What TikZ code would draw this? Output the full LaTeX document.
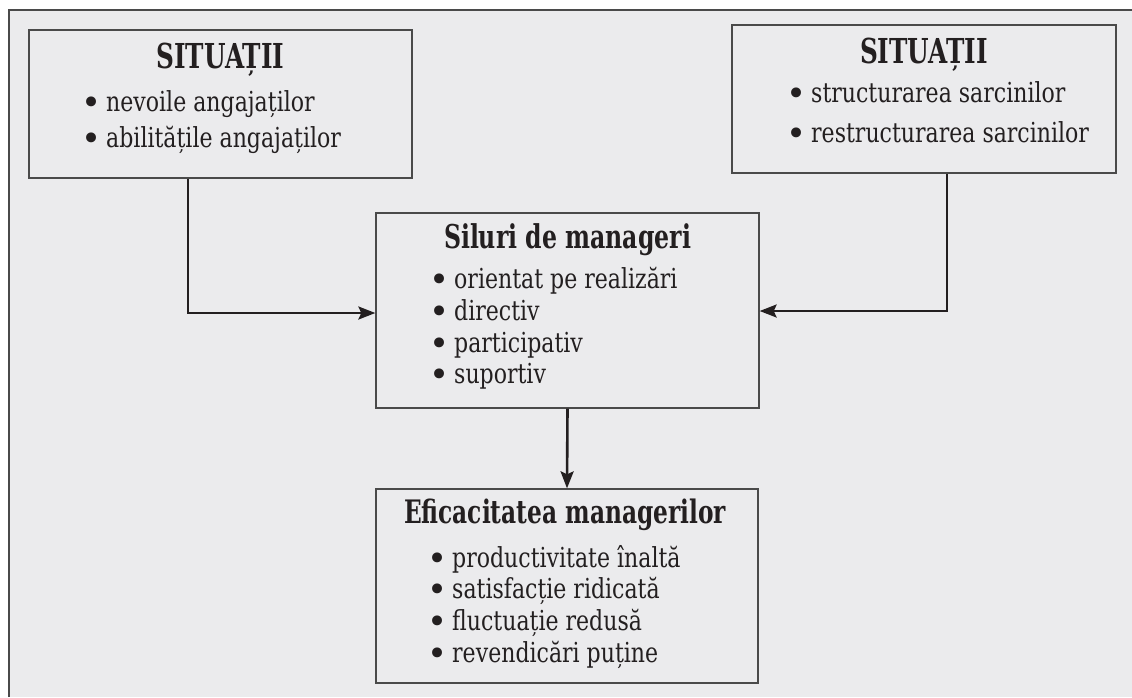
\documentclass[tikz,border=0pt]{standalone}
\usepackage{fontspec}
\setmainfont{DejaVu Serif}[FakeStretch=0.8]
\newfontfamily\headfont{DejaVu Serif}[FakeStretch=0.72]
\newfontfamily\dotfont{DejaVu Serif}
\usetikzlibrary{arrows.meta}
\definecolor{panel}{HTML}{EBEBED}
\definecolor{ink}{HTML}{231F20}
\definecolor{rule}{HTML}{4A4A4A}
% typeset #2 in the current face at the size that makes it #1 pt wide
\newlength\fitw
\newcommand\fitto[2]{%
  \settowidth\fitw{\fontsize{10pt}{12pt}\selectfont #2}%
  \edef\fitsz{\the\numexpr 655360*\numexpr #1*65536\relax/\number\fitw\relax sp}%
  \fontsize{\fitsz}{\fitsz}\selectfont #2}
% list bullet: an 8pt dot followed by the gap before the words
\newcommand{\blt}{\makebox[8pt][c]{\dotfont\fontsize{34pt}{34pt}\selectfont\raisebox{-3pt}{•}}\kern11pt}
\newlength\bodyw
\begin{document}
% one common size for all list lines
\settowidth\bodyw{\fontsize{10pt}{12pt}\selectfont nevoile angajațilorrestructurarea sarcinilororientat pe realizăriproductivitate înaltă}%
\edef\bodysz{\the\numexpr 655360*\numexpr 938*65536\relax/\number\bodyw\relax sp}%
\begin{tikzpicture}[x=1pt,y=-1pt,
  box/.style={draw=rule, line width=1.3pt, fill=panel, inner sep=0pt},
  head/.style={anchor=base, inner sep=0pt, text=ink, font=\headfont\bfseries},
  item/.style={anchor=base west, inner sep=0pt, text=ink,
    font=\fontsize{\bodysz}{\bodysz}\selectfont},
  flow/.style={draw=ink, line width=2.6pt,
    -{Stealth[length=17pt,width=13pt,inset=3pt]}}]
% page and outer frame
\useasboundingbox (0,0) rectangle (1132,697);
\fill[white] (0,0) rectangle (1132,697);
\fill[panel] (9,10) rectangle (1132,697);
\draw[rule, line width=1.3pt] (9,697) -- (9,10) -- (1132,10);

% boxes
\node[box, minimum width=383pt, minimum height=148pt] (sitA) at (220.5,104) {};
\node[box, minimum width=384pt, minimum height=148pt] (sitB) at (924,99) {};
\node[box, minimum width=383pt, minimum height=195pt] (stil) at (567.5,310.5) {};
\node[box, minimum width=382pt, minimum height=194pt] (efic) at (567,586) {};

% left situations
\node[head] (hA) at (220.5,68) {\fitto{128}{SITUAȚII}};
\node[item] (a1) at (87,111) {\blt nevoile angajaților};
\node[item] (a2) at (87,147) {\blt abilitățile angajaților};

% right situations
\node[head] (hB) at (924,63) {\fitto{128}{SITUAȚII}};
\node[item] (b1) at (792,102) {\blt structurarea sarcinilor};
\node[item] (b2) at (792,142) {\blt restructurarea sarcinilor};

% management styles
\node[head] (hS) at (567.5,248) {\fitto{247}{Siluri de manageri}};
\node[item] (s1) at (435,288) {\blt orientat pe realizări};
\node[item] (s2) at (435,320) {\blt directiv};
\node[item] (s3) at (435,352) {\blt participativ};
\node[item] (s4) at (435,383) {\blt suportiv};

% effectiveness
\node[head] (hE) at (565,523) {\fitto{322}{Eficacitatea managerilor}};
\node[item] (e1) at (433,567) {\blt productivitate înaltă};
\node[item] (e2) at (433,598) {\blt satisfacție ridicată};
\node[item] (e3) at (433,630) {\blt fluctuație redusă};
\node[item] (e4) at (433,662) {\blt revendicări puține};

% connectors
\coordinate (lk) at (188,313);
\coordinate (rk) at (947,311);
\draw[flow] (sitA.south -| lk) -- (lk) -- (stil.west |- lk);
\draw[flow] (sitB.south -| rk) -- (rk) -- (stil.east |- rk);
\draw[flow] (stil.south) -- (efic.north);
\end{tikzpicture}
\end{document}
